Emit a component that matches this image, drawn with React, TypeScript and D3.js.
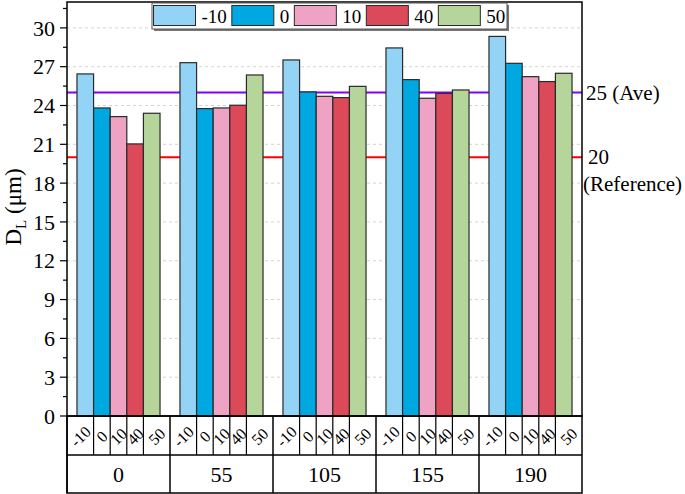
import React from 'react';
import * as d3 from 'd3';

const groups = ['0', '55', '105', '155', '190'];
const series = ['-10', '0', '10', '40', '50'];
const colors = ['#93D3F5', '#00A8E1', '#EEA3C4', '#DC4A5A', '#B5D59A'];
const values = [
  [26.44, 23.81, 23.14, 21.03, 23.4],
  [27.31, 23.76, 23.81, 24.02, 26.36],
  [27.52, 25.05, 24.71, 24.61, 25.48],
  [28.45, 26.0, 24.56, 24.94, 25.2],
  [29.34, 27.26, 26.23, 25.85, 26.49],
];
const yTicks = [0, 3, 6, 9, 12, 15, 18, 21, 24, 27, 30];
const aveLine = 25;
const refLine = 20;

const W = 685;
const H = 494;
const left = 67;
const right = 582;
const top = 2;
const bottom = 416;
const row1 = 455;
const row2 = 493;
const font = "'Liberation Serif', 'Times New Roman', Times, serif";
const legendFont = 19;

// rough text width for Times-like digits
const textW = (s: string, size: number) =>
  s.split('').reduce((w, c) => w + (c === '-' ? 0.333 : 0.5), 0) * size;

const App = () => {
  const x0 = d3.scaleBand().domain(groups).range([left, right]);
  const x1 = d3.scaleBand().domain(series).range([0, x0.bandwidth()]).paddingInner(0).paddingOuter(0.6);
  const y = d3.scaleLinear().domain([0, 32]).range([bottom, top]);
  const minor = d3.range(1.5, 32, 3);

  // cell boundaries in the first label row: group start, inner bar edges, group end
  const cellEdges = (g: string) => {
    const gx = x0(g)!;
    const edges = [gx];
    series.slice(1).forEach(s => edges.push(gx + x1(s)!));
    edges.push(gx + x0.bandwidth());
    return edges;
  };

  // legend item positions depend on the label width
  const legendX: number[] = [];
  let lx = 153.5;
  series.forEach(s => {
    legendX.push(lx);
    lx += 48 + textW(s, legendFont) + 5;
  });

  return (
    <svg width={W} height={H} style={{ position: 'absolute', left: 0, top: 0, fontFamily: font }}>
      <rect x={0} y={0} width={W} height={H} fill="#fff" />
      {/* grid */}
      {yTicks.slice(1).map(t => (
        <line key={t} x1={left} x2={right} y1={y(t)} y2={y(t)} stroke="#c8c8c8" strokeDasharray="3,3" strokeWidth={0.8} />
      ))}
      {/* reference lines */}
      <line x1={left} x2={right} y1={y(aveLine)} y2={y(aveLine)} stroke="#8000FF" strokeWidth={2} />
      <line x1={left} x2={right} y1={y(refLine)} y2={y(refLine)} stroke="#FF0000" strokeWidth={2} />
      {/* bars */}
      {groups.map((g, gi) => (
        <g key={g} transform={`translate(${x0(g)},0)`}>
          {series.map((s, si) => (
            <rect
              key={s}
              x={x1(s)}
              y={y(values[gi][si])}
              width={x1.bandwidth()}
              height={bottom - y(values[gi][si])}
              fill={colors[si]}
              stroke="#2a2a2a"
              strokeWidth={1.2}
            />
          ))}
        </g>
      ))}
      {/* frame */}
      <rect x={left} y={top} width={right - left} height={bottom - top} fill="none" stroke="#000" strokeWidth={1.5} />
      {/* y ticks */}
      {yTicks.map(t => (
        <g key={t}>
          <line x1={left - 7} x2={left} y1={y(t)} y2={y(t)} stroke="#000" strokeWidth={1.2} />
          <text x={55} y={y(t)} dy="0.35em" textAnchor="end" fontSize={22}>{t}</text>
        </g>
      ))}
      {minor.map(t => (
        <line key={t} x1={left - 4} x2={left} y1={y(t)} y2={y(t)} stroke="#000" strokeWidth={1.2} />
      ))}
      {/* y label */}
      <text transform={`translate(21,207) rotate(-90)`} textAnchor="middle" fontSize={23}>
        D<tspan fontSize={15} dy={5}>L</tspan><tspan dy={-5}> (μm)</tspan>
      </text>
      {/* right annotations */}
      <text x={586} y={y(aveLine)} dy="0.35em" fontSize={21}>25 (Ave)</text>
      <text x={588} y={y(refLine) - 1} dy="0.35em" fontSize={21}>20</text>
      <text x={583} y={y(refLine) + 26} dy="0.35em" fontSize={21}>(Reference)</text>
      {/* table */}
      <rect x={left} y={bottom} width={right - left} height={row2 - bottom} fill="none" stroke="#000" strokeWidth={1.5} />
      <line x1={left} x2={right} y1={row1} y2={row1} stroke="#000" strokeWidth={1.5} />
      {groups.map(g => {
        const edges = cellEdges(g);
        return (
          <g key={g}>
            <line x1={x0(g)} x2={x0(g)} y1={bottom} y2={row2} stroke="#000" strokeWidth={1.5} />
            {edges.slice(1, -1).map((e, i) => (
              <line key={i} x1={e} x2={e} y1={bottom} y2={row1} stroke="#000" strokeWidth={1.2} />
            ))}
            {series.map((s, si) => {
              const cx = (edges[si] + edges[si + 1]) / 2;
              return (
                <text key={s} transform={`translate(${cx},${(bottom + row1) / 2 + 1}) rotate(-45)`} textAnchor="middle" dy="0.35em" fontSize={16}>
                  {s}
                </text>
              );
            })}
            <text x={x0(g)! + x0.bandwidth() / 2} y={(row1 + row2) / 2} dy="0.35em" textAnchor="middle" fontSize={22}>{g}</text>
          </g>
        );
      })}
      {/* legend */}
      <rect x={154} y={5} width={355} height={26} fill="#777" />
      <rect x={152} y={3} width={355} height={26} fill="#fff" stroke="#555" strokeWidth={1} />
      {series.map((s, i) => (
        <g key={s}>
          <rect x={legendX[i]} y={5.5} width={42} height={20} fill={colors[i]} stroke="#2a2a2a" strokeWidth={1} />
          <text x={legendX[i] + 48} y={16} dy="0.35em" fontSize={legendFont}>{s}</text>
        </g>
      ))}
    </svg>
  );
};

export default App;
